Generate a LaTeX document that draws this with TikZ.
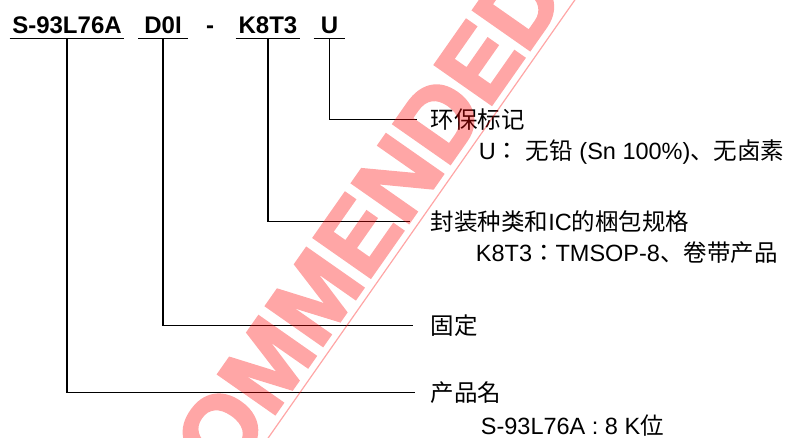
\documentclass[tikz,border=0pt]{standalone}
\usepackage{fontspec}
\setmainfont{Liberation Sans}
\newfontfamily\cjk{Noto Sans CJK JP}
\newfontfamily\wmfont[BoldFeatures={FakeBold=3}]{Liberation Sans}
\usetikzlibrary{positioning}

\begin{document}
\begin{tikzpicture}[x=1pt,y=-1pt,font=\fontsize{23.5}{28}\selectfont,line width=1.8pt,
 part/.style={font=\fontsize{24}{28}\selectfont\bfseries,inner sep=0pt,text depth=4.5pt,anchor=base},
 lbl/.style={inner sep=0pt,text height=17pt,text depth=0pt,anchor=base west},
 note/.style={inner sep=0pt,anchor=base west},
 wm/.style={font=\fontsize{100}{100}\wmfont\bfseries,text=red,inner sep=0pt,text depth=7.5pt,rotate=55,anchor=base west}]
\useasboundingbox (0,0) rectangle (791,437);
% part number
\node[part,minimum width=113pt] (pName) at (67,33) {S-93L76A};
\node[part,minimum width=48pt] (pFix) at (163,33) {D0I};
\node[part] (pDash) at (210,33) {-};
\node[part,minimum width=63pt] (pPkg) at (268,33) {K8T3};
\node[part,minimum width=30pt] (pEnv) at (329.5,33) {U};
\foreach \p in {pName,pFix,pPkg,pEnv}
  \draw (\p.south west) -- (\p.south east);
% labels
\node[lbl] (lEnv) at (430,128) {\cjk 环保标记};
\node[note] (nEnv) at ([xshift=48pt,yshift=-31pt]lEnv.base west) {U{\cjk ：} {\cjk 无铅} (Sn 100\%){\cjk 、无卤素}};
\node[lbl] (lPkg) at (430,230) {{\cjk 封装种类和}IC{\cjk 的梱包规格}};
\node[note] (nPkg) at ([xshift=45pt,yshift=-31pt]lPkg.base west) {K8T3{\cjk ：}TMSOP-8{\cjk 、卷带产品}};
\node[lbl] (lFix) at (430,334) {\cjk 固定};
\node[lbl] (lName) at (430,401) {\cjk 产品名};
\node[note] (nName) at ([xshift=50pt,yshift=-33pt]lName.base west) {S-93L76A : 8 K{\cjk 位}};
% leaders
\draw (pEnv.south) |- ([xshift=-13pt]lEnv.west);
\draw (pPkg.south) |- ([xshift=-20pt]lPkg.west);
\draw (pFix.south) |- ([xshift=-17pt]lFix.west);
\draw (pName.south) |- ([xshift=-15pt]lName.west);
% watermark
\begin{scope}[transparency group,opacity=.35]
\clip (0,0) rectangle (791,437);
\node[wm] (wmark) at (-32,852) {NOT RECOMMENDED};
\draw[red,line width=1.2pt,shorten >=-80pt] (wmark.south west) -- (wmark.south east);
\end{scope}
\end{tikzpicture}
\end{document}
